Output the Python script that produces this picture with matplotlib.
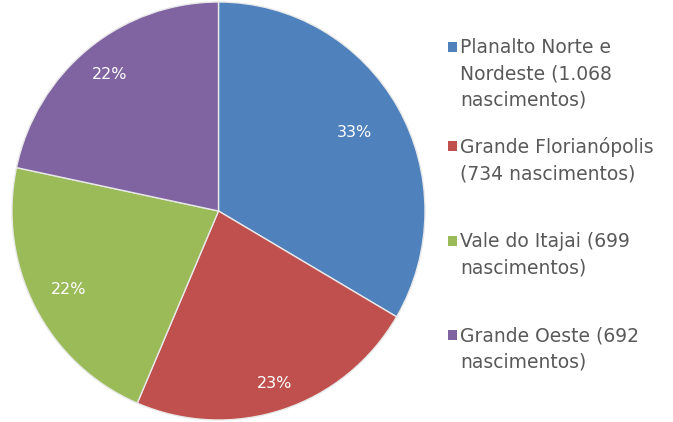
import math
import matplotlib.pyplot as plt
from matplotlib.patches import Rectangle

# Data
regions = ['Planalto Norte e\nNordeste (1.068\nnascimentos)',
           'Grande Florianópolis\n(734 nascimentos)',
           'Vale do Itajai (699\nnascimentos)',
           'Grande Oeste (692\nnascimentos)']
births = [1068, 734, 699, 692]
colors = ['#4F81BD', '#C0504D', '#9BBB59', '#8064A2']
label_r = [0.76, 0.87, 0.82, 0.84]

fig = plt.figure(figsize=(6.73, 4.22), dpi=100)

# Pie axes
ax = fig.add_axes([12 / 673, 2 / 422, 413 / 673, 418 / 422])
wedges, texts = ax.pie(births, colors=colors, startangle=90, counterclock=False,
                       wedgeprops={'edgecolor': '#e8e8e8', 'linewidth': 1})
ax.set_aspect('auto')
ax.set_xlim(-1, 1)
ax.set_ylim(-1, 1)

# percentage labels
total = sum(births)
angle = 90.0
for v, r in zip(births, label_r):
    span = 360.0 * v / total
    mid = math.radians(angle - span / 2)
    angle -= span
    ax.text(r * math.cos(mid), r * math.sin(mid), '%d%%' % round(100 * v / total),
            ha='center', va='center', color='white', fontsize=11.5)

# Legend drawn manually
tops = [47, 146, 241, 335]
for lab, c, y in zip(regions, colors, tops):
    fig.patches.append(Rectangle((448 / 673, 1 - (y + 5) / 422), 9 / 673, 10 / 422,
                                 transform=fig.transFigure, facecolor=c, edgecolor='none'))
    fig.text(460 / 673, 1 - (y - 9) / 422, lab, ha='left', va='top',
             fontsize=13.5, color='#595959', linespacing=1.47)

plt.savefig('out.png', dpi=100)
